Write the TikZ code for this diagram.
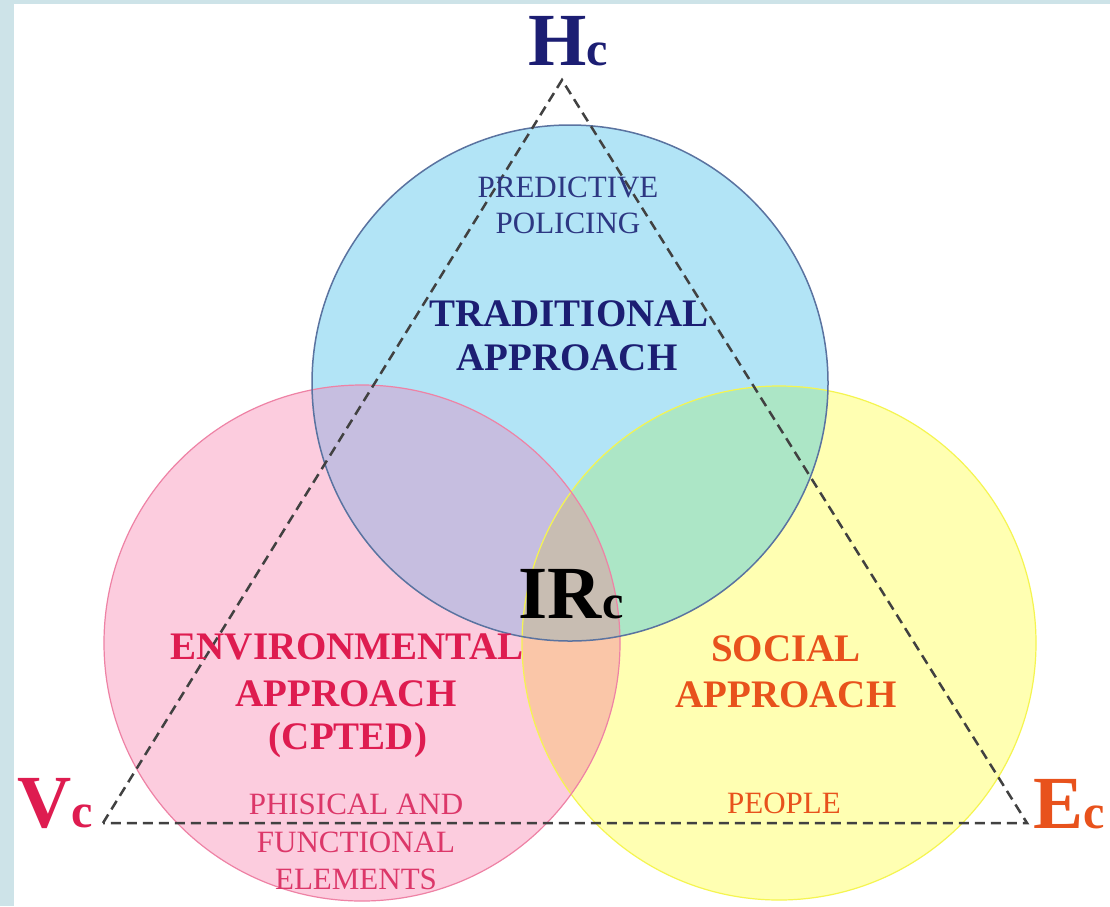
\documentclass[tikz,border=0pt]{standalone}
\usepackage{fontspec}
\setmainfont{Liberation Serif}
\definecolor{bgblue}{RGB}{205,227,232}
\definecolor{cblue}{RGB}{178,228,246}
\definecolor{cpink}{RGB}{252,204,222}
\definecolor{cyel}{RGB}{255,255,178}
\definecolor{cbp}{RGB}{198,190,224}
\definecolor{cby}{RGB}{172,230,198}
\definecolor{cpy}{RGB}{250,198,168}
\definecolor{cbpy}{RGB}{200,189,178}
\definecolor{cbluel}{RGB}{90,115,160}
\definecolor{cpinkl}{RGB}{238,130,165}
\definecolor{cyell}{RGB}{245,245,80}
\definecolor{navy}{RGB}{28,30,115}
\definecolor{navyl}{RGB}{45,55,130}
\definecolor{crim}{RGB}{222,28,80}
\definecolor{criml}{RGB}{220,55,105}
\definecolor{orng}{RGB}{232,82,28}
\definecolor{dashgray}{RGB}{65,65,65}
\tikzset{
  big/.style={font=\fontsize{75}{75}\selectfont\bfseries, anchor=base, inner sep=0pt},
  bold/.style={font=\fontsize{39}{44}\selectfont\bfseries, anchor=base, inner sep=0pt},
  thin/.style={font=\fontsize{31}{37}\selectfont, anchor=base, inner sep=0pt},
  tri/.style={draw=dashgray, line width=2.5pt, dash pattern=on 10pt off 6pt, line join=miter},
}
\newcommand{\subc}[1]{{\fontsize{48}{48}\selectfont #1}}
\newcommand{\cB}{(570,383) circle[radius=258pt]}
\newcommand{\cP}{(362,643) circle[radius=258pt]}
\newcommand{\cY}{(779,643) circle[radius=257pt]}
\begin{document}
\begin{tikzpicture}[x=1pt,y=-1pt]
\useasboundingbox (0,0) rectangle (1110,906);
\fill[bgblue] (0,0) rectangle (1110,906);
\fill[white] (14,4) rectangle (1110,906);
\fill[cyel] \cY;
\fill[cpink] \cP;
\fill[cblue] \cB;
\begin{scope}\clip \cB; \fill[cbp] \cP; \end{scope}
\begin{scope}\clip \cB; \fill[cby] \cY; \end{scope}
\begin{scope}\clip \cP; \fill[cpy] \cY; \end{scope}
\begin{scope}\clip \cB; \clip \cP; \fill[cbpy] \cY; \end{scope}
\draw[cyell, line width=1.2pt] \cY;
\draw[cpinkl, line width=1.2pt] \cP;
\draw[cbluel, line width=1.5pt] \cB;
\coordinate (H) at (562,80);
\coordinate (V) at (103,823);
\coordinate (E) at (1027,823);
\draw[tri] (V) -- (H) -- (E) -- cycle;
\node[big, text=navy] (hc) at (568,65) {H\subc{c}};
\node[big, text=crim] (vc) at (55,827) {V\subc{c}};
\node[big, text=orng] (ec) at (1069,828) {E\subc{c}};
\node[big, text=black] (irc) at (571,618) {IR\subc{c}};
\node[thin, text=navyl] (pp1) at (568,197) {PREDICTIVE};
\node[thin, text=navyl] (pp2) at (568,233) {POLICING};
\node[bold, text=navy] (ta1) at (569,326) {TRADITIONAL};
\node[bold, text=navy] (ta2) at (567,370) {APPROACH};
\node[bold, text=crim] (ea1) at (347,659) {ENVIRONMENTAL};
\node[bold, text=crim] (ea2) at (346,706) {APPROACH};
\node[bold, text=crim] (ea3) at (348,749) {(CPTED)};
\node[bold, text=orng] (sa1) at (786,661) {SOCIAL};
\node[bold, text=orng] (sa2) at (786,707) {APPROACH};
\node[thin, text=criml] (pf1) at (356,814) {PHISICAL AND};
\node[thin, text=criml] (pf2) at (356,852) {FUNCTIONAL};
\node[thin, text=criml] (pf3) at (356,889) {ELEMENTS};
\node[thin, text=orng] (pe) at (784,813) {PEOPLE};
\end{tikzpicture}
\end{document}
